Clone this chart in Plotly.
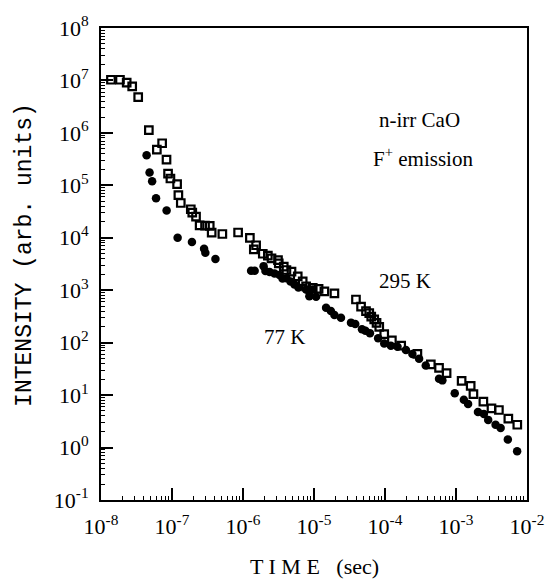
import plotly.graph_objects as go

# 295 K (open squares)
t_295 = [1.38e-8, 1.85e-8, 2.30e-8, 2.75e-8, 3.34e-8, 4.72e-8, 6.12e-8, 7.26e-8, 8.37e-8, 8.8e-8,
         9.5e-8, 1.18e-7, 1.23e-7, 1.33e-7, 1.84e-7, 1.93e-7, 2.18e-7, 2.45e-7, 2.92e-7, 3.4e-7,
         3.62e-7, 5.12e-7, 8.53e-7, 1.25e-6, 1.53e-6, 1.42e-6, 1.9e-6, 2.24e-6, 2.52e-6, 3.11e-6,
         3.19e-6, 3.75e-6, 4.09e-6, 4.82e-6, 5.9e-6, 6.93e-6, 7.74e-6, 9.6e-6, 1.16e-5, 1.4e-5,
         1.94e-5, 3.9e-5, 4.6e-5, 5.4e-5, 6.0e-5, 6.4e-5, 7.05e-5, 7.6e-5, 8.3e-5, 9.75e-5,
         1.25e-4, 1.69e-4, 2.86e-4, 4.42e-4, 5.77e-4, 7.37e-4, 1.2e-3, 1.61e-3, 1.76e-3, 2.43e-3,
         3.16e-3, 4.02e-3, 5.46e-3, 7.3e-3]
i_295 = [1.03e7, 1.03e7, 9.06e6, 7.72e6, 4.79e6, 1.13e6, 4.8e5, 6.34e5, 3.1e5, 1.67e5,
         1.35e5, 1.05e5, 6.5e4, 4.6e4, 3.5e4, 3.03e4, 2.53e4, 1.73e4, 1.7e4, 1.68e4,
         1.25e4, 1.18e4, 1.26e4, 1.0e4, 7.2e3, 6.0e3, 4.96e3, 4.55e3, 4.05e3, 3.74e3,
         3.26e3, 2.82e3, 2.43e3, 2.27e3, 1.83e3, 1.47e3, 1.18e3, 1.11e3, 1.06e3, 9.5e2,
         8.7e2, 6.65e2, 4.86e2, 4.0e2, 3.66e2, 3.15e2, 2.77e2, 2.38e2, 2.0e2, 1.46e2,
         1.11e2, 87.5, 61, 38.4, 33, 26.3, 18.7, 15.0, 10.4, 7.5,
         5.6, 5.2, 3.57, 2.72]

# 77 K (filled circles)
t_77 = [4.39e-8, 4.83e-8, 5.25e-8, 5.96e-8, 8.4e-8, 1.2e-7, 1.91e-7, 2.83e-7, 2.95e-7, 4.09e-7,
        1.3e-6, 1.46e-6, 1.95e-6, 2.07e-6, 2.37e-6, 2.78e-6, 3.27e-6, 3.6e-6, 4.09e-6, 4.67e-6,
        5.31e-6, 6.04e-6, 7.74e-6, 8.6e-6, 9.6e-6, 8.6e-6, 1.07e-5, 1.48e-5, 1.73e-5, 1.94e-5,
        2.4e-5, 3.32e-5, 3.81e-5, 4.74e-5, 5.3e-5, 6.14e-5, 8.0e-5, 9.75e-5, 1.21e-4, 1.5e-4,
        1.97e-4, 2.43e-4, 3.02e-4, 3.75e-4, 5.77e-4, 6.43e-4, 9.6e-4, 1.29e-3, 1.48e-3, 2.04e-3,
        2.47e-3, 2.84e-3, 3.61e-3, 4.25e-3, 5.37e-3, 7.26e-3]
i_77 = [3.73e5, 1.75e5, 1.2e5, 5.7e4, 3.3e4, 1.0e4, 8.3e3, 6.17e3, 5.19e3, 3.94e3,
        2.34e3, 2.34e3, 2.88e3, 2.32e3, 2.22e3, 2.08e3, 1.95e3, 1.68e3, 1.7e3, 1.47e3,
        1.29e3, 1.13e3, 1.03e3, 9.5e2, 1.03e3, 7.67e2, 7.5e2, 4.62e2, 4.0e2, 3.37e2,
        2.99e2, 2.41e2, 2.27e2, 1.81e2, 1.68e2, 1.52e2, 1.22e2, 96.8, 87.5, 83.8,
        72.6, 61, 49.2, 36.7, 20.6, 19.1, 10.8, 8.15, 6.76, 4.78,
        4.38, 3.37, 2.72, 2.35, 1.42, 0.85]

x_exp = [-8, -7, -6, -5, -4, -3, -2]
y_exp = [-1, 0, 1, 2, 3, 4, 5, 6, 7, 8]

x_major = [10.0 ** e for e in x_exp]
y_major = [10.0 ** e for e in y_exp]
x_minor = [m * 10.0 ** e for e in x_exp[:-1] for m in range(2, 10)]
y_minor = [m * 10.0 ** e for e in y_exp[:-1] for m in range(2, 10)]
x_text = ["10<sup>%d</sup>" % e for e in x_exp]
y_text = ["10<sup>%d</sup>" % e for e in y_exp]

serif = "Liberation Serif"

fig = go.Figure()
fig.add_trace(go.Scatter(x=t_295, y=i_295, mode="markers",
                         marker=dict(symbol="square-open", size=7.5, color="black",
                                     line=dict(width=2.2, color="black")),
                         name="295 K"))
fig.add_trace(go.Scatter(x=t_77, y=i_77, mode="markers",
                         marker=dict(symbol="circle", size=8.5, color="black"),
                         name="77 K"))

axis_common = dict(showgrid=False, zeroline=False, showline=True, linecolor="black",
                   linewidth=2, mirror=True, ticks="inside", ticklen=12, tickwidth=1.5,
                   tickcolor="black", tickmode="array",
                   tickfont=dict(family=serif, size=22, color="black"))

fig.update_xaxes(type="log", range=[-8, -2], tickvals=x_major, ticktext=x_text,
                 minor=dict(tickvals=x_minor, ticks="inside", ticklen=4, tickcolor="black",
                            tickwidth=1),
                 ticklabelstandoff=6, **axis_common)
fig.update_yaxes(type="log", range=[-1, 8], tickvals=y_major, ticktext=y_text,
                 minor=dict(tickvals=y_minor, ticks="inside", ticklen=4, tickcolor="black",
                            tickwidth=1),
                 ticklabelstandoff=6, **axis_common)

ann_font = dict(family=serif, size=21, color="black")
annotations = [
    dict(x=0.648, y=0.805, text="n-irr CaO"),
    dict(x=0.633, y=0.725, text="F<sup>+</sup> emission"),
    dict(x=0.648, y=0.465, text="295 K"),
    dict(x=0.378, y=0.345, text="77 K"),
]
for a in annotations:
    fig.add_annotation(xref="paper", yref="paper", xanchor="left", yanchor="middle",
                       showarrow=False, font=ann_font, **a)

fig.add_annotation(xref="paper", yref="paper", x=0.5, y=-0.14, xanchor="center",
                   yanchor="middle", showarrow=False,
                   text="T I M E&nbsp;&nbsp;&nbsp;(sec)",
                   font=dict(family=serif, size=22, color="black"))
fig.add_annotation(xref="paper", yref="paper", x=-0.18, y=0.52, xanchor="center",
                   yanchor="middle", showarrow=False, textangle=-90,
                   text="INTENSITY (arb. units)",
                   font=dict(family="Liberation Mono", size=23, color="black"))

fig.update_layout(width=560, height=581, showlegend=False,
                  paper_bgcolor="white", plot_bgcolor="white",
                  margin=dict(l=101, r=33, t=24, b=81))

fig.write_html("out.html")
